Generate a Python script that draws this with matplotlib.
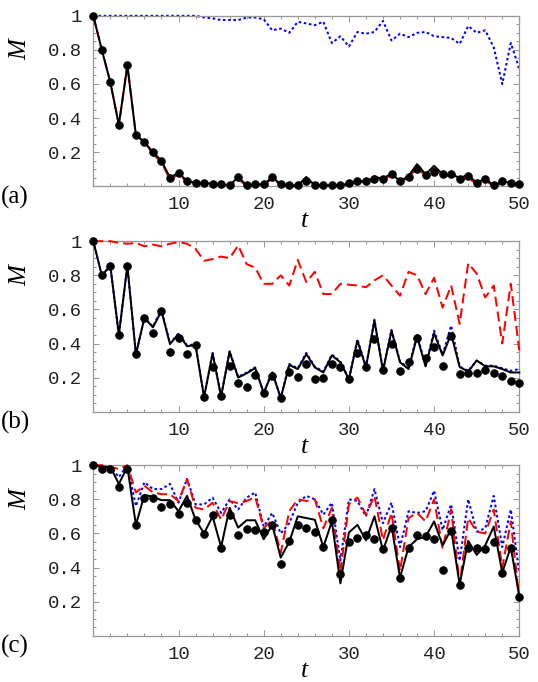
import matplotlib
matplotlib.use("Agg")
import matplotlib.pyplot as plt
import numpy as np
from matplotlib.ticker import MultipleLocator, FixedLocator

t = np.arange(51)

# panel (a)
a_dots = [1.0, 0.80, 0.61, 0.36, 0.71, 0.30, 0.26, 0.20, 0.15, 0.05,
          0.08, 0.03, 0.02, 0.02, 0.015, 0.015, 0.005, 0.055, 0.005, 0.012,
          0.012, 0.053, 0.012, 0.005, 0.005, 0.03, 0.005, 0.005, 0.005, 0.005,
          0.018, 0.03, 0.03, 0.045, 0.045, 0.075, 0.03, 0.055, 0.10, 0.065,
          0.085, 0.07, 0.07, 0.045, 0.06, 0.02, 0.04, 0.005, 0.03, 0.02, 0.012]
a_black = [1.0, 0.80, 0.61, 0.36, 0.71, 0.30, 0.26, 0.20, 0.15, 0.05,
           0.08, 0.03, 0.02, 0.02, 0.015, 0.015, 0.005, 0.055, 0.005, 0.012,
           0.012, 0.053, 0.012, 0.005, 0.005, 0.055, 0.005, 0.005, 0.005, 0.005,
           0.018, 0.03, 0.03, 0.05, 0.045, 0.075, 0.03, 0.06, 0.13, 0.07,
           0.12, 0.07, 0.07, 0.05, 0.065, 0.02, 0.045, 0.005, 0.03, 0.02, 0.012]
a_red = [1.0, 0.80, 0.61, 0.36, 0.71, 0.30, 0.26, 0.19, 0.14, 0.04,
         0.07, 0.025, 0.015, 0.015, 0.01, 0.01, 0.0, 0.045, 0.0, 0.008,
         0.008, 0.045, 0.008, 0.0, 0.0, 0.045, 0.0, 0.0, 0.0, 0.0,
         0.012, 0.025, 0.025, 0.06, 0.04, 0.065, 0.025, 0.05, 0.11, 0.06,
         0.105, 0.06, 0.06, 0.035, 0.05, 0.012, 0.035, 0.0, 0.02, 0.01, 0.005]
a_blue = [1.0, 1.0, 1.0, 1.0, 1.0, 1.0, 1.0, 1.0, 1.0, 1.0,
          1.0, 1.0, 1.0, 0.99, 0.985, 0.975, 0.975, 0.975, 0.99, 0.99,
          0.98, 0.915, 0.925, 0.90, 0.965, 0.955, 0.945, 0.965, 0.84, 0.88,
          0.82, 0.905, 0.895, 0.905, 0.97, 0.855, 0.895, 0.875, 0.90, 0.905,
          0.88, 0.875, 0.87, 0.835, 0.94, 0.90, 0.915, 0.815, 0.60, 0.84, 0.69]

# panel (b)
b_dots = [1.0, 0.80, 0.855, 0.45, 0.857, 0.337, 0.55, 0.46, 0.59, 0.35,
          0.43, 0.34, 0.39, 0.085, 0.265, 0.09, 0.27, 0.17, 0.145, 0.215,
          0.11, 0.21, 0.08, 0.23, 0.205, 0.28, 0.19, 0.20, 0.28, 0.265,
          0.19, 0.345, 0.26, 0.425, 0.245, 0.40, 0.24, 0.29, 0.435, 0.315,
          0.38, 0.27, 0.445, 0.22, 0.225, 0.225, 0.245, 0.225, 0.21, 0.18, 0.17]
b_black = [1.0, 0.80, 0.855, 0.45, 0.857, 0.337, 0.55, 0.495, 0.59, 0.397,
           0.456, 0.384, 0.39, 0.085, 0.342, 0.09, 0.352, 0.20, 0.225, 0.256,
           0.11, 0.23, 0.08, 0.274, 0.25, 0.338, 0.26, 0.23, 0.33, 0.29,
           0.19, 0.417, 0.26, 0.534, 0.24, 0.475, 0.29, 0.25, 0.44, 0.266,
           0.46, 0.33, 0.456, 0.262, 0.235, 0.30, 0.266, 0.266, 0.25, 0.23, 0.23]
b_blue = [1.0, 0.80, 0.855, 0.45, 0.857, 0.337, 0.55, 0.50, 0.60, 0.40,
          0.46, 0.39, 0.395, 0.085, 0.345, 0.09, 0.355, 0.205, 0.23, 0.26,
          0.11, 0.235, 0.08, 0.28, 0.255, 0.345, 0.265, 0.235, 0.335, 0.295,
          0.19, 0.425, 0.265, 0.54, 0.245, 0.48, 0.295, 0.255, 0.45, 0.27,
          0.475, 0.335, 0.505, 0.265, 0.24, 0.30, 0.27, 0.27, 0.255, 0.24, 0.25]
b_red = [1.0, 1.0, 1.0, 0.99, 0.985, 0.99, 0.97, 0.98, 0.97, 0.985,
         0.995, 0.985, 0.955, 0.885, 0.895, 0.91, 0.90, 0.975, 0.865, 0.845,
         0.75, 0.75, 0.80, 0.74, 0.89, 0.76, 0.82, 0.69, 0.69, 0.75,
         0.745, 0.74, 0.73, 0.77, 0.80, 0.74, 0.68, 0.82, 0.80, 0.69,
         0.785, 0.61, 0.74, 0.515, 0.87, 0.81, 0.67, 0.74, 0.40, 0.75, 0.36]

# panel (c)
c_dots = [1.0, 0.98, 0.98, 0.873, 0.98, 0.65, 0.805, 0.805, 0.757, 0.77,
          0.712, 0.777, 0.68, 0.595, 0.706, 0.517, 0.706, 0.59, 0.624, 0.62,
          0.61, 0.648, 0.423, 0.556, 0.65, 0.634, 0.609, 0.522, 0.68, 0.36,
          0.55, 0.575, 0.59, 0.57, 0.507, 0.634, 0.34, 0.517, 0.59, 0.585,
          0.57, 0.385, 0.614, 0.297, 0.517, 0.517, 0.51, 0.55, 0.366, 0.517, 0.227]
c_black = [1.0, 0.99, 0.99, 0.89, 0.99, 0.65, 0.826, 0.815, 0.795, 0.795,
           0.73, 0.82, 0.68, 0.60, 0.70, 0.52, 0.75, 0.634, 0.677, 0.677,
           0.566, 0.65, 0.458, 0.55, 0.70, 0.69, 0.68, 0.52, 0.67, 0.307,
           0.605, 0.65, 0.56, 0.70, 0.50, 0.644, 0.34, 0.52, 0.566, 0.58,
           0.67, 0.53, 0.624, 0.30, 0.556, 0.474, 0.53, 0.64, 0.37, 0.52, 0.23]
c_red = [1.0, 1.0, 0.99, 0.977, 1.0, 0.84, 0.88, 0.84, 0.83, 0.83,
         0.79, 0.918, 0.75, 0.74, 0.78, 0.68, 0.79, 0.777, 0.79, 0.814,
         0.63, 0.68, 0.487, 0.73, 0.80, 0.79, 0.80, 0.63, 0.75, 0.37,
         0.77, 0.81, 0.71, 0.82, 0.56, 0.72, 0.38, 0.69, 0.72, 0.67,
         0.80, 0.51, 0.74, 0.30, 0.69, 0.61, 0.60, 0.74, 0.40, 0.67, 0.22]
c_blue = [1.0, 0.99, 0.99, 0.93, 1.0, 0.76, 0.90, 0.86, 0.86, 0.89,
          0.78, 0.92, 0.77, 0.77, 0.81, 0.72, 0.80, 0.74, 0.81, 0.84,
          0.64, 0.72, 0.60, 0.66, 0.78, 0.82, 0.80, 0.71, 0.78, 0.44,
          0.80, 0.79, 0.70, 0.86, 0.66, 0.78, 0.52, 0.73, 0.72, 0.73,
          0.85, 0.62, 0.77, 0.44, 0.80, 0.61, 0.63, 0.82, 0.52, 0.74, 0.37]

panels = [
    ("(a)", a_dots, a_black, a_red, a_blue),
    ("(b)", b_dots, b_black, b_red, b_blue),
    ("(c)", c_dots, c_black, c_red, c_blue),
]

W, H = 538, 682
fig = plt.figure(figsize=(W / 72, H / 72), dpi=72)

FRAME = "#999999"
MONO = "Liberation Mono"
SERIF = "Liberation Serif"
left, right = 93.3, 519.3
bottoms = [186.3, 411.7, 635.7]
height = 170.5

for (tag, dots, black, red, blue), bot in zip(panels, bottoms):
    ax = fig.add_axes([left / W, 1 - bot / H, (right - left) / W, height / H])
    ax.plot(t, blue, color="#0000ff", lw=2, linestyle=(0, (1.3, 1.3)), zorder=2, clip_on=False)
    ax.plot(t, red, color="#ff0000", lw=2, linestyle=(0, (5, 2.5)), zorder=3, clip_on=False)
    ax.plot(t, black, color="black", lw=2, zorder=4, clip_on=False)
    ax.plot(t, dots, "o", color="black", ms=7.5, zorder=5, clip_on=False)

    ax.set_xlim(0, 50)
    ax.set_ylim(0, 1)
    ax.xaxis.set_major_locator(FixedLocator([10, 20, 30, 40, 50]))
    ax.xaxis.set_minor_locator(MultipleLocator(2))
    ax.yaxis.set_major_locator(FixedLocator([0.2, 0.4, 0.6, 0.8, 1.0]))
    ax.yaxis.set_minor_locator(MultipleLocator(0.05))
    ax.set_yticklabels(["0.2", "0.4", "0.6", "0.8", "1"])
    ax.tick_params(which="both", direction="in", top=True, right=True,
                   color=FRAME, width=1)
    ax.tick_params(which="major", length=6)
    ax.tick_params(which="minor", length=3)
    ax.tick_params(axis="x", pad=10)
    ax.tick_params(axis="y", pad=11)
    for lab in ax.get_xticklabels() + ax.get_yticklabels():
        lab.set_fontfamily(MONO)
        lab.set_fontsize(19)
        lab.set_color("#222222")
    for s in ax.spines.values():
        s.set_color(FRAME)
        s.set_linewidth(1.3)

    ax.annotate("t", xy=(0.495, 0), xycoords="axes fraction", xytext=(0, -41),
                textcoords="offset points", ha="center", va="baseline",
                fontsize=26, fontstyle="italic", family=SERIF)
    ax.annotate("M", xy=(0, 0.80), xycoords="axes fraction", xytext=(-73, 0),
                textcoords="offset points", ha="center", va="center",
                rotation=90, fontsize=25, fontstyle="italic", family=SERIF)
    ax.annotate(tag, xy=(0, 0), xycoords="axes fraction", xytext=(-92, -11),
                textcoords="offset points", ha="left", va="center",
                fontsize=25, family=SERIF)

fig.savefig("out.png", dpi=72)
